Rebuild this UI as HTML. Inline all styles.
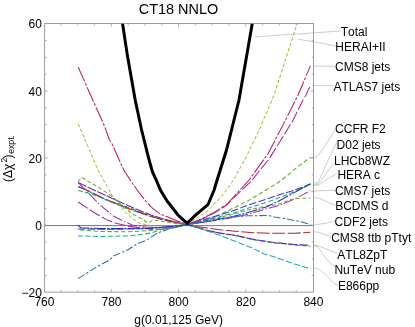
<!DOCTYPE html>
<html><head><meta charset="utf-8"><title>CT18 NNLO</title>
<style>
html,body{margin:0;padding:0;background:#fff;}
svg{display:block;font-family:"Liberation Sans",sans-serif;opacity:0.999;will-change:transform;}
text{fill:#000;font-kerning:none;}
</style></head><body>
<svg width="415" height="327" viewBox="0 0 415 327">
<rect x="0" y="0" width="415" height="327" fill="#fff"/>
<defs><clipPath id="c"><rect x="44.7" y="23.6" width="268.9" height="268.5"/></clipPath></defs>
<line x1="44.7" y1="225.6" x2="313.6" y2="225.6" stroke="#484848" stroke-width="0.75"/>
<g clip-path="url(#c)" fill="none" stroke-linejoin="round">
<polyline points="78.2,123.8 98.9,172.0 106.0,184.5 112.2,195.8 114.7,199.7 124.4,211.3 126.0,212.5 132.2,218.1 138.5,222.8 144.8,224.4 151.0,225.6 165.0,225.8 178.0,225.3 187.0,224.5 188.0,223.8 208.0,210.8 220.5,197.3 226.4,190.0 232.1,182.0 246.0,157.6 251.9,145.0 259.2,130.0 272.0,100.0 274.1,95.0 297.3,23.0" stroke="#a4ac22" stroke-width="0.95" stroke-dasharray="3.5 2.05"/>
<polyline points="78.2,202.0 88.5,208.9 94.8,213.0 107.2,219.9 117.2,223.6 128.0,226.1 138.5,227.4 151.0,229.2 163.5,229.2 178.0,226.8 187.0,224.7 200.0,220.0 214.2,213.1 226.8,205.0 233.0,198.3 251.3,181.2 259.0,171.2 268.5,159.8 278.0,144.7 287.4,129.5 293.1,120.0 303.0,100.0 306.0,95.0 310.4,85.4" stroke="#b4209c" stroke-width="1.05" stroke-dasharray="11.5 2.5"/>
<polyline points="78.2,67.0 89.2,92.0 104.0,125.0 109.5,140.0 111.5,142.6 121.5,165.2 125.0,172.0 131.6,182.0 137.2,190.0 144.8,200.0 151.0,206.9 159.8,213.8 178.0,221.2 187.0,224.5 200.0,219.5 214.2,212.5 226.8,204.4 233.0,197.5 249.0,180.2 267.9,153.9 281.7,127.6 295.5,100.0 298.1,95.0 310.4,65.9" stroke="#be1e5a" stroke-width="1.05" stroke-dasharray="16 1.6 2.8 1.6"/>
<polyline points="78.2,182.6 88.5,193.2 101.0,205.8 108.5,212.0 113.4,216.0 117.2,218.0 124.4,221.7 128.0,223.0 132.2,225.0 145.0,227.0 160.0,227.5 178.0,226.0 187.0,224.7 200.0,222.6 215.0,220.4 233.0,217.6 248.0,214.2 258.0,211.3 266.0,208.9 278.5,205.6 291.0,200.6 303.5,194.4 310.4,190.6" stroke="#a030c4" stroke-width="1.05" stroke-dasharray="10.5 2 1.5 2"/>
<polyline points="78.2,190.5 88.5,193.2 101.0,197.6 107.2,200.5 113.5,202.3 128.0,207.3 138.5,211.2 151.0,215.9 163.5,219.6 178.0,222.9 187.0,224.7 195.5,227.0 208.0,230.8 220.5,233.4 235.0,235.6 253.5,239.7 274.0,242.9 294.5,245.0 310.5,246.3" stroke="#30a858" stroke-width="1.05" stroke-dasharray="5 2"/>
<polyline points="78.2,182.6 88.5,187.6 101.0,193.2 113.5,198.9 128.0,205.5 138.5,210.0 151.0,215.0 163.5,219.0 178.0,222.5 187.0,224.7 195.5,226.9 208.0,230.6 220.5,233.1 235.0,235.2 253.5,239.4 274.0,242.5 294.5,244.5 308.8,245.2" stroke="#6a22c4" stroke-width="1.1" stroke-dasharray="9 1.5"/>
<polyline points="78.2,186.8 88.5,191.2 101.0,197.5 113.5,203.1 128.0,208.7 138.5,212.4 151.0,216.6 163.5,220.0 178.0,223.1 187.0,224.7 208.0,231.2 220.5,235.6 235.0,241.2 253.5,248.6 263.7,253.8 274.0,256.8 294.5,264.0 310.5,268.7" stroke="#20a8b8" stroke-width="1.05" stroke-dasharray="6.5 2"/>
<polyline points="78.2,186.4 88.5,190.8 101.0,197.0 113.5,202.6 128.0,208.2 138.5,212.0 151.0,216.3 163.5,219.8 178.0,223.0 187.0,224.7 195.5,226.5 208.0,228.1 220.5,229.8 235.0,231.2 253.5,232.7 274.0,233.3 294.5,233.3 310.5,232.2" stroke="#b02828" stroke-width="1.05" stroke-dasharray="13 2.5"/>
<polyline points="78.2,181.8 81.6,177.2 88.5,181.4 101.0,188.9 112.2,196.4 117.2,200.8 124.4,208.4 128.0,210.5 132.2,213.8 138.5,216.9 148.5,223.1 152.9,220.0 163.0,221.5 178.0,223.8 187.0,224.7 200.0,222.0 215.0,218.6 233.0,214.3 248.0,210.1 258.0,207.8 266.0,206.2 273.0,205.3 278.5,204.2 291.0,199.4 297.2,198.5 310.4,198.1" stroke="#74ac2c" stroke-width="1.05" stroke-dasharray="3.8 2.5"/>
<polyline points="79.8,229.9 101.0,231.5 128.0,231.8 151.0,230.5 161.0,229.2 178.0,226.5 187.0,224.7 208.0,219.4 220.5,214.4 233.0,208.3 248.0,200.8 258.0,194.8 266.0,190.0 279.0,182.0 291.0,172.6 296.9,167.4 310.5,157.3" stroke="#4cb42c" stroke-width="1.05" stroke-dasharray="4.4 2.5"/>
<polyline points="77.9,229.0 111.0,229.2 128.0,229.0 151.0,228.5 178.0,226.0 187.0,224.7 210.0,217.8 233.0,210.8 248.0,205.1 266.0,199.4 278.5,195.0 291.0,191.2 303.5,186.9 310.4,183.8" stroke="#4434d4" stroke-width="1.05" stroke-dasharray="7.5 2.2"/>
<polyline points="77.9,235.9 101.0,236.5 128.0,235.9 138.5,234.9 151.0,233.0 159.8,229.9 170.0,227.5 187.0,224.7 210.0,219.0 233.0,213.2 248.0,208.2 266.0,202.5 278.5,198.1 291.0,193.1 303.5,187.5 310.4,184.8" stroke="#22a880" stroke-width="1.05" stroke-dasharray="5 2.5"/>
<polyline points="77.9,225.2 81.0,227.8 101.0,228.6 128.0,228.6 151.0,228.0 178.0,226.0 187.0,224.7 210.0,221.0 233.0,216.6 248.0,212.6 258.0,209.6 266.0,206.9 278.5,201.2 291.0,194.4 303.5,187.5 310.4,184.0" stroke="#2430a4" stroke-width="1.05" stroke-dasharray="12 1.5 2 1.5"/>
<polyline points="78.0,278.5 81.0,276.9 94.8,267.9 109.8,259.8 113.5,256.0 128.0,249.8 137.2,243.6 144.8,241.1 151.0,237.4 157.2,233.0 163.5,231.1 169.8,228.6 178.0,226.8 187.0,224.7 200.0,222.0 215.0,219.0 233.0,216.9 248.0,215.8 258.0,215.7 264.5,215.4 268.0,215.4 274.2,217.0 285.0,218.6 299.3,221.4 310.5,224.5" stroke="#2272b4" stroke-width="1.05" stroke-dasharray="7.5 2 2.5 2"/>
<polyline points="121.9,19.0 122.4,22.5 127.4,55.6 135.2,100.0 141.6,130.0 149.1,160.0 152.5,172.0 157.1,182.0 160.4,190.0 167.2,201.2 178.0,215.0 183.0,219.6 187.2,223.2 195.5,215.2 208.0,204.7 214.1,190.0 216.5,182.0 226.5,150.0 234.0,120.0 239.0,100.0 252.4,22.8 253.0,19.0" stroke="#000" stroke-width="3.0" stroke-linejoin="miter"/>
</g>
<rect x="44.7" y="23.6" width="268.90000000000003" height="268.5" fill="none" stroke="#7c7c7c" stroke-width="0.75"/>
<path d="M60.91,292.1v-1.9M60.91,23.6v1.9M44.7,275.52h1.9M313.6,275.52h-1.9M77.71,292.1v-1.9M77.71,23.6v1.9M44.7,258.74h1.9M313.6,258.74h-1.9M94.52,292.1v-1.9M94.52,23.6v1.9M44.7,241.96h1.9M313.6,241.96h-1.9M111.33,292.1v-3.0M111.33,23.6v3.0M44.7,225.18h3.0M313.6,225.18h-3.0M128.13,292.1v-1.9M128.13,23.6v1.9M44.7,208.39h1.9M313.6,208.39h-1.9M144.94,292.1v-1.9M144.94,23.6v1.9M44.7,191.61h1.9M313.6,191.61h-1.9M161.74,292.1v-1.9M161.74,23.6v1.9M44.7,174.83h1.9M313.6,174.83h-1.9M178.55,292.1v-3.0M178.55,23.6v3.0M44.7,158.05h3.0M313.6,158.05h-3.0M195.36,292.1v-1.9M195.36,23.6v1.9M44.7,141.27h1.9M313.6,141.27h-1.9M212.16,292.1v-1.9M212.16,23.6v1.9M44.7,124.49h1.9M313.6,124.49h-1.9M228.97,292.1v-1.9M228.97,23.6v1.9M44.7,107.71h1.9M313.6,107.71h-1.9M245.78,292.1v-3.0M245.78,23.6v3.0M44.7,90.93h3.0M313.6,90.93h-3.0M262.58,292.1v-1.9M262.58,23.6v1.9M44.7,74.14h1.9M313.6,74.14h-1.9M279.39,292.1v-1.9M279.39,23.6v1.9M44.7,57.36h1.9M313.6,57.36h-1.9M296.19,292.1v-1.9M296.19,23.6v1.9M44.7,40.58h1.9M313.6,40.58h-1.9" stroke="#969696" stroke-width="0.75" fill="none"/>
<g fill="none" stroke="#868686" stroke-width="0.42">
<polyline points="255.4,36.9 282.5,34.8 312.9,33.0 340.5,30.9"/>
<polyline points="297.5,39.1 312.9,41.7 325.0,43.9 336.8,46.1"/>
<polyline points="313.8,66.2 335.0,66.2"/>
<polyline points="313.8,85.6 333.5,85.6"/>
<polyline points="311.0,157.4 316.6,157.3 322.2,150.0 335.4,129.3"/>
<polyline points="314.0,182.8 318.0,182.8 332.9,150.0 337.0,142.4"/>
<polyline points="314.1,184.4 318.5,184.0 334.5,161.9"/>
<polyline points="314.1,185.6 319.1,185.0 328.0,178.5 336.8,173.9"/>
<polyline points="313.8,191.1 335.4,190.2"/>
<polyline points="313.8,197.4 318.5,198.0 335.4,205.5"/>
<polyline points="313.8,224.9 325.0,223.4 335.4,221.1"/>
<polyline points="313.8,232.0 318.5,232.2 331.6,237.0"/>
<polyline points="313.8,245.4 318.5,245.8 337.2,253.5"/>
<polyline points="313.8,245.4 317.9,246.6 325.4,258.0 331.0,264.0 335.4,267.6"/>
<polyline points="313.8,268.0 318.0,268.7 324.8,273.6 331.0,280.5 334.5,283.8 337.8,285.0"/>
</g>
<g font-size="12px">
<text x="340.7" y="36.0">Total</text>
<text x="335.3" y="50.9">HERAI+II</text>
<text x="335.0" y="70.9">CMS8 jets</text>
<text x="333.5" y="90.6">ATLAS7 jets</text>
<text x="335.1" y="133.1">CCFR F2</text>
<text x="336.6" y="149.1">D02 jets</text>
<text x="334.0" y="164.5">LHCb8WZ</text>
<text x="337.4" y="179.4">HERA c</text>
<text x="334.9" y="194.6">CMS7 jets</text>
<text x="335.2" y="210.1">BCDMS d</text>
<text x="334.6" y="226.1">CDF2 jets</text>
<text x="331.2" y="241.6">CMS8 ttb pTtyt</text>
<text x="337.3" y="259.0">ATL8ZpT</text>
<text x="334.4" y="274.3">NuTeV nub</text>
<text x="337.9" y="289.7">E866pp</text>
</g>
<g font-size="12px">
<text x="41.9" y="27.9" text-anchor="end">60</text>
<text x="41.9" y="96.0" text-anchor="end">40</text>
<text x="41.9" y="162.7" text-anchor="end">20</text>
<text x="41.9" y="230.2" text-anchor="end">0</text>
<text x="41.9" y="296.9" text-anchor="end">−20</text>
<text x="44.4" y="306.1" text-anchor="middle">760</text>
<text x="111.5" y="306.1" text-anchor="middle">780</text>
<text x="178.6" y="306.1" text-anchor="middle">800</text>
<text x="245.9" y="306.1" text-anchor="middle">820</text>
<text x="313.4" y="306.1" text-anchor="middle">840</text>
</g>
<text x="178.5" y="13.95" font-size="14.45px" text-anchor="middle">CT18 NNLO</text>
<text x="178.6" y="323.6" font-size="12px" text-anchor="middle">g(0.01,125 GeV)</text>
<g transform="translate(12.3,182.0) rotate(-90)"><text x="0" y="0" font-size="12px">(Δχ</text><text x="19.4" y="-5.7" font-size="8.5px">2</text><text x="23.5" y="0" font-size="12px">)</text><text x="28.2" y="1.4" font-size="8.7px">expt.</text></g>
</svg>
</body></html>
